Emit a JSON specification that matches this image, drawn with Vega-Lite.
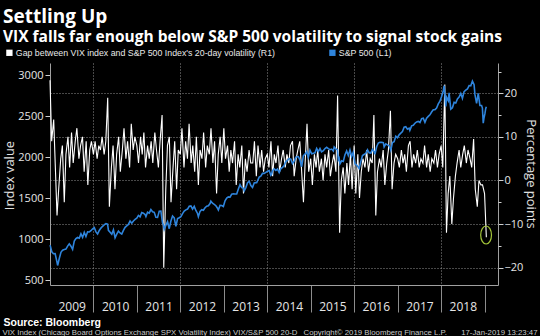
{
  "$schema": "https://vega.github.io/schema/vega-lite/v6.json",
  "width": 448,
  "height": 222,
  "autosize": {"type": "none"},
  "padding": {"left": 50, "top": 63, "right": 42, "bottom": 51},
  "background": "#000000",
  "config": {"view": {"stroke": null}, "font": "Open Sans"},
  "title": {
    "text": "Settling Up",
    "subtitle": "VIX falls far enough below S&P 500 volatility to signal stock gains",
    "anchor": "start",
    "frame": "group",
    "dx": -47,
    "color": "#ffffff",
    "font": "Open Sans",
    "fontSize": 19,
    "fontWeight": "bold",
    "subtitleColor": "#ffffff",
    "subtitleFont": "Open Sans",
    "subtitleFontSize": 15.5,
    "subtitleFontWeight": "bold",
    "subtitlePadding": 3,
    "offset": 3
  },
  "datasets": {
    "gap": [
      {"d": "2009-01-01", "v": 23}, {"d": "2009-01-15", "v": 9}, {"d": "2009-02-01", "v": 14}, {"d": "2009-02-15", "v": 3}, {"d": "2009-03-01", "v": -8}, {"d": "2009-03-15", "v": -2}, {"d": "2009-04-01", "v": 5}, {"d": "2009-04-15", "v": 8}, {"d": "2009-05-01", "v": -5}, {"d": "2009-05-15", "v": 6}, {"d": "2009-06-01", "v": 10}, {"d": "2009-06-15", "v": 3}, {"d": "2009-07-01", "v": 11}, {"d": "2009-07-15", "v": 4}, {"d": "2009-08-01", "v": 9}, {"d": "2009-08-15", "v": 12}, {"d": "2009-09-01", "v": 5}, {"d": "2009-09-15", "v": 8}, {"d": "2009-10-01", "v": 10}, {"d": "2009-10-15", "v": 2}, {"d": "2009-11-01", "v": 9}, {"d": "2009-11-15", "v": -1}, {"d": "2009-12-01", "v": 7}, {"d": "2009-12-15", "v": 9},
      {"d": "2010-01-01", "v": 6}, {"d": "2010-01-15", "v": 9}, {"d": "2010-02-01", "v": 5}, {"d": "2010-02-15", "v": 8}, {"d": "2010-03-01", "v": 7}, {"d": "2010-03-15", "v": 10}, {"d": "2010-04-01", "v": 6}, {"d": "2010-04-15", "v": 9}, {"d": "2010-05-01", "v": 19}, {"d": "2010-05-15", "v": -6}, {"d": "2010-06-01", "v": 3}, {"d": "2010-06-15", "v": 8}, {"d": "2010-07-01", "v": -2}, {"d": "2010-07-15", "v": 6}, {"d": "2010-08-01", "v": 10}, {"d": "2010-08-15", "v": 2}, {"d": "2010-09-01", "v": 7}, {"d": "2010-09-15", "v": 12}, {"d": "2010-10-01", "v": 5}, {"d": "2010-10-15", "v": 9}, {"d": "2010-11-01", "v": 3}, {"d": "2010-11-15", "v": 13}, {"d": "2010-12-01", "v": 7}, {"d": "2010-12-15", "v": 10},
      {"d": "2011-01-01", "v": 8}, {"d": "2011-01-15", "v": 4}, {"d": "2011-02-01", "v": 10}, {"d": "2011-02-15", "v": 6}, {"d": "2011-03-01", "v": 11}, {"d": "2011-03-15", "v": 3}, {"d": "2011-04-01", "v": 8}, {"d": "2011-04-15", "v": 5}, {"d": "2011-05-01", "v": 9}, {"d": "2011-05-15", "v": 4}, {"d": "2011-06-01", "v": 11}, {"d": "2011-06-15", "v": 7}, {"d": "2011-07-01", "v": 3}, {"d": "2011-07-15", "v": 9}, {"d": "2011-08-01", "v": 15}, {"d": "2011-08-15", "v": -20}, {"d": "2011-09-01", "v": -2}, {"d": "2011-09-15", "v": 8}, {"d": "2011-10-01", "v": 10}, {"d": "2011-10-15", "v": -5}, {"d": "2011-11-01", "v": 3}, {"d": "2011-11-15", "v": 9}, {"d": "2011-12-01", "v": -2}, {"d": "2011-12-15", "v": 7},
      {"d": "2012-01-01", "v": 6}, {"d": "2012-01-15", "v": 12}, {"d": "2012-02-01", "v": 3}, {"d": "2012-02-15", "v": 9}, {"d": "2012-03-01", "v": 5}, {"d": "2012-03-15", "v": 13}, {"d": "2012-04-01", "v": 4}, {"d": "2012-04-15", "v": 8}, {"d": "2012-05-01", "v": 2}, {"d": "2012-05-15", "v": 10}, {"d": "2012-06-01", "v": -1}, {"d": "2012-06-15", "v": 7}, {"d": "2012-07-01", "v": 5}, {"d": "2012-07-15", "v": 11}, {"d": "2012-08-01", "v": 3}, {"d": "2012-08-15", "v": 8}, {"d": "2012-09-01", "v": 6}, {"d": "2012-09-15", "v": 12}, {"d": "2012-10-01", "v": 4}, {"d": "2012-10-15", "v": 9}, {"d": "2012-11-01", "v": -3}, {"d": "2012-11-15", "v": 6}, {"d": "2012-12-01", "v": 10}, {"d": "2012-12-15", "v": 4},
      {"d": "2013-01-01", "v": 12}, {"d": "2013-01-15", "v": 5}, {"d": "2013-02-01", "v": 8}, {"d": "2013-02-15", "v": 2}, {"d": "2013-03-01", "v": 7}, {"d": "2013-03-15", "v": 4}, {"d": "2013-04-01", "v": 9}, {"d": "2013-04-15", "v": -1}, {"d": "2013-05-01", "v": 6}, {"d": "2013-05-15", "v": 3}, {"d": "2013-06-01", "v": 8}, {"d": "2013-06-15", "v": -3}, {"d": "2013-07-01", "v": 5}, {"d": "2013-07-15", "v": 2}, {"d": "2013-08-01", "v": 7}, {"d": "2013-08-15", "v": 4}, {"d": "2013-09-01", "v": 4}, {"d": "2013-09-15", "v": 9}, {"d": "2013-10-01", "v": 1}, {"d": "2013-10-15", "v": 8}, {"d": "2013-11-01", "v": 3}, {"d": "2013-11-15", "v": 7}, {"d": "2013-12-01", "v": 2}, {"d": "2013-12-15", "v": 5},
      {"d": "2014-01-01", "v": 6}, {"d": "2014-01-15", "v": 3}, {"d": "2014-02-01", "v": 9}, {"d": "2014-02-15", "v": 1}, {"d": "2014-03-01", "v": 6}, {"d": "2014-03-15", "v": 4}, {"d": "2014-04-01", "v": 8}, {"d": "2014-04-15", "v": 2}, {"d": "2014-05-01", "v": 5}, {"d": "2014-05-15", "v": 7}, {"d": "2014-06-01", "v": 3}, {"d": "2014-06-15", "v": 6}, {"d": "2014-07-01", "v": 4}, {"d": "2014-07-15", "v": 8}, {"d": "2014-08-01", "v": 9}, {"d": "2014-08-15", "v": 1}, {"d": "2014-09-01", "v": 5}, {"d": "2014-09-15", "v": 7}, {"d": "2014-10-01", "v": 9}, {"d": "2014-10-15", "v": 3}, {"d": "2014-11-01", "v": -5}, {"d": "2014-11-15", "v": 4}, {"d": "2014-12-01", "v": 13}, {"d": "2014-12-15", "v": 2},
      {"d": "2015-01-01", "v": 5}, {"d": "2015-01-15", "v": -1}, {"d": "2015-02-01", "v": 6}, {"d": "2015-02-15", "v": 3}, {"d": "2015-03-01", "v": 7}, {"d": "2015-03-15", "v": 2}, {"d": "2015-04-01", "v": 5}, {"d": "2015-04-15", "v": 0}, {"d": "2015-05-01", "v": 6}, {"d": "2015-05-15", "v": 3}, {"d": "2015-06-01", "v": 7}, {"d": "2015-06-15", "v": 1}, {"d": "2015-07-01", "v": 4}, {"d": "2015-07-15", "v": 6}, {"d": "2015-08-01", "v": 2}, {"d": "2015-08-15", "v": 19.5}, {"d": "2015-09-01", "v": -12}, {"d": "2015-09-15", "v": 0}, {"d": "2015-10-01", "v": 3}, {"d": "2015-10-15", "v": -3}, {"d": "2015-11-01", "v": 4}, {"d": "2015-11-15", "v": -1}, {"d": "2015-12-01", "v": 6}, {"d": "2015-12-15", "v": -2},
      {"d": "2016-01-01", "v": 8}, {"d": "2016-01-15", "v": -3}, {"d": "2016-02-01", "v": 6}, {"d": "2016-02-15", "v": -4}, {"d": "2016-03-01", "v": 2}, {"d": "2016-03-15", "v": 5}, {"d": "2016-04-01", "v": 3}, {"d": "2016-04-15", "v": 7}, {"d": "2016-05-01", "v": 2}, {"d": "2016-05-15", "v": 5}, {"d": "2016-06-01", "v": 4}, {"d": "2016-06-15", "v": 15}, {"d": "2016-07-01", "v": -8}, {"d": "2016-07-15", "v": 2}, {"d": "2016-08-01", "v": 5}, {"d": "2016-08-15", "v": 3}, {"d": "2016-09-01", "v": 7}, {"d": "2016-09-15", "v": -1}, {"d": "2016-10-01", "v": 4}, {"d": "2016-10-15", "v": 7}, {"d": "2016-11-01", "v": 16}, {"d": "2016-11-15", "v": -2}, {"d": "2016-12-01", "v": 4}, {"d": "2016-12-15", "v": 6},
      {"d": "2017-01-01", "v": 5}, {"d": "2017-01-15", "v": 3}, {"d": "2017-02-01", "v": 7}, {"d": "2017-02-15", "v": 4}, {"d": "2017-03-01", "v": 6}, {"d": "2017-03-15", "v": 2}, {"d": "2017-04-01", "v": 8}, {"d": "2017-04-15", "v": 9}, {"d": "2017-05-01", "v": 3}, {"d": "2017-05-15", "v": 6}, {"d": "2017-06-01", "v": 4}, {"d": "2017-06-15", "v": 7}, {"d": "2017-07-01", "v": 3}, {"d": "2017-07-15", "v": 5}, {"d": "2017-08-01", "v": 4}, {"d": "2017-08-15", "v": 8}, {"d": "2017-09-01", "v": 3}, {"d": "2017-09-15", "v": 6}, {"d": "2017-10-01", "v": 2}, {"d": "2017-10-15", "v": 5}, {"d": "2017-11-01", "v": 4}, {"d": "2017-11-15", "v": 7}, {"d": "2017-12-01", "v": 3}, {"d": "2017-12-15", "v": 6},
      {"d": "2018-01-01", "v": 8}, {"d": "2018-01-15", "v": 3}, {"d": "2018-02-01", "v": 22}, {"d": "2018-02-15", "v": -12}, {"d": "2018-03-01", "v": -3}, {"d": "2018-03-15", "v": 1}, {"d": "2018-04-01", "v": -10}, {"d": "2018-04-15", "v": -4}, {"d": "2018-05-01", "v": 1}, {"d": "2018-05-15", "v": 4}, {"d": "2018-06-01", "v": 7}, {"d": "2018-06-15", "v": 3}, {"d": "2018-07-01", "v": 6}, {"d": "2018-07-15", "v": 8}, {"d": "2018-08-01", "v": 4}, {"d": "2018-08-15", "v": 7}, {"d": "2018-09-01", "v": 5}, {"d": "2018-09-15", "v": 3}, {"d": "2018-10-01", "v": 9.5}, {"d": "2018-10-15", "v": -2}, {"d": "2018-11-01", "v": -6}, {"d": "2018-11-15", "v": 0}, {"d": "2018-12-01", "v": -1}, {"d": "2018-12-15", "v": -1},
      {"d": "2019-01-01", "v": -3}, {"d": "2019-01-16", "v": -13}
    ],
    "spx": [
      {"d": "2009-01-02", "v": 931}, {"d": "2009-01-16", "v": 850}, {"d": "2009-01-30", "v": 826}, {"d": "2009-02-13", "v": 827}, {"d": "2009-02-27", "v": 735}, {"d": "2009-03-06", "v": 683}, {"d": "2009-03-20", "v": 768}, {"d": "2009-04-03", "v": 843}, {"d": "2009-04-17", "v": 870}, {"d": "2009-05-01", "v": 877}, {"d": "2009-05-15", "v": 882}, {"d": "2009-05-29", "v": 919}, {"d": "2009-06-12", "v": 946}, {"d": "2009-06-26", "v": 918}, {"d": "2009-07-10", "v": 879}, {"d": "2009-07-24", "v": 979}, {"d": "2009-08-07", "v": 1010}, {"d": "2009-08-21", "v": 1026}, {"d": "2009-09-04", "v": 1016}, {"d": "2009-09-18", "v": 1068}, {"d": "2009-10-02", "v": 1025}, {"d": "2009-10-16", "v": 1087}, {"d": "2009-10-30", "v": 1036}, {"d": "2009-11-13", "v": 1093}, {"d": "2009-11-27", "v": 1091}, {"d": "2009-12-11", "v": 1106}, {"d": "2009-12-24", "v": 1127},
      {"d": "2010-01-08", "v": 1145}, {"d": "2010-01-22", "v": 1092}, {"d": "2010-02-05", "v": 1066}, {"d": "2010-02-19", "v": 1109}, {"d": "2010-03-05", "v": 1138}, {"d": "2010-03-19", "v": 1160}, {"d": "2010-04-01", "v": 1178}, {"d": "2010-04-16", "v": 1192}, {"d": "2010-04-30", "v": 1187}, {"d": "2010-05-07", "v": 1111}, {"d": "2010-05-21", "v": 1088}, {"d": "2010-06-04", "v": 1064}, {"d": "2010-06-18", "v": 1117}, {"d": "2010-07-02", "v": 1022}, {"d": "2010-07-16", "v": 1065}, {"d": "2010-07-30", "v": 1101}, {"d": "2010-08-13", "v": 1079}, {"d": "2010-08-27", "v": 1065}, {"d": "2010-09-10", "v": 1110}, {"d": "2010-09-24", "v": 1148}, {"d": "2010-10-08", "v": 1166}, {"d": "2010-10-22", "v": 1183}, {"d": "2010-11-05", "v": 1225}, {"d": "2010-11-19", "v": 1199}, {"d": "2010-12-03", "v": 1225}, {"d": "2010-12-17", "v": 1244}, {"d": "2010-12-31", "v": 1258},
      {"d": "2011-01-14", "v": 1293}, {"d": "2011-01-28", "v": 1276}, {"d": "2011-02-11", "v": 1329}, {"d": "2011-02-25", "v": 1320}, {"d": "2011-03-11", "v": 1304}, {"d": "2011-03-18", "v": 1279}, {"d": "2011-04-01", "v": 1332}, {"d": "2011-04-15", "v": 1320}, {"d": "2011-04-29", "v": 1364}, {"d": "2011-05-13", "v": 1338}, {"d": "2011-05-27", "v": 1331}, {"d": "2011-06-10", "v": 1271}, {"d": "2011-06-24", "v": 1268}, {"d": "2011-07-08", "v": 1344}, {"d": "2011-07-22", "v": 1345}, {"d": "2011-08-05", "v": 1199}, {"d": "2011-08-12", "v": 1179}, {"d": "2011-08-19", "v": 1124}, {"d": "2011-09-02", "v": 1174}, {"d": "2011-09-16", "v": 1216}, {"d": "2011-09-30", "v": 1131}, {"d": "2011-10-14", "v": 1224}, {"d": "2011-10-28", "v": 1285}, {"d": "2011-11-11", "v": 1264}, {"d": "2011-11-25", "v": 1159}, {"d": "2011-12-09", "v": 1255}, {"d": "2011-12-23", "v": 1265},
      {"d": "2012-01-06", "v": 1278}, {"d": "2012-01-20", "v": 1315}, {"d": "2012-02-03", "v": 1345}, {"d": "2012-02-17", "v": 1361}, {"d": "2012-03-02", "v": 1370}, {"d": "2012-03-16", "v": 1404}, {"d": "2012-03-30", "v": 1408}, {"d": "2012-04-13", "v": 1370}, {"d": "2012-04-27", "v": 1403}, {"d": "2012-05-11", "v": 1353}, {"d": "2012-05-25", "v": 1317}, {"d": "2012-06-01", "v": 1278}, {"d": "2012-06-15", "v": 1342}, {"d": "2012-06-29", "v": 1362}, {"d": "2012-07-13", "v": 1356}, {"d": "2012-07-27", "v": 1386}, {"d": "2012-08-10", "v": 1405}, {"d": "2012-08-24", "v": 1411}, {"d": "2012-09-07", "v": 1437}, {"d": "2012-09-14", "v": 1466}, {"d": "2012-09-28", "v": 1441}, {"d": "2012-10-12", "v": 1428}, {"d": "2012-10-26", "v": 1411}, {"d": "2012-11-09", "v": 1380}, {"d": "2012-11-16", "v": 1360}, {"d": "2012-11-30", "v": 1416}, {"d": "2012-12-14", "v": 1413}, {"d": "2012-12-28", "v": 1402},
      {"d": "2013-01-11", "v": 1472}, {"d": "2013-01-25", "v": 1503}, {"d": "2013-02-08", "v": 1518}, {"d": "2013-02-22", "v": 1515}, {"d": "2013-03-08", "v": 1552}, {"d": "2013-03-22", "v": 1557}, {"d": "2013-04-05", "v": 1553}, {"d": "2013-04-19", "v": 1555}, {"d": "2013-05-03", "v": 1614}, {"d": "2013-05-17", "v": 1667}, {"d": "2013-05-31", "v": 1631}, {"d": "2013-06-14", "v": 1626}, {"d": "2013-06-21", "v": 1593}, {"d": "2013-07-05", "v": 1632}, {"d": "2013-07-19", "v": 1692}, {"d": "2013-08-02", "v": 1709}, {"d": "2013-08-16", "v": 1656}, {"d": "2013-08-30", "v": 1633}, {"d": "2013-09-13", "v": 1688}, {"d": "2013-09-27", "v": 1692}, {"d": "2013-10-04", "v": 1691}, {"d": "2013-10-25", "v": 1759}, {"d": "2013-11-08", "v": 1771}, {"d": "2013-11-22", "v": 1805}, {"d": "2013-12-06", "v": 1805}, {"d": "2013-12-20", "v": 1818},
      {"d": "2014-01-03", "v": 1831}, {"d": "2014-01-17", "v": 1839}, {"d": "2014-01-31", "v": 1783}, {"d": "2014-02-07", "v": 1797}, {"d": "2014-02-14", "v": 1838}, {"d": "2014-02-28", "v": 1859}, {"d": "2014-03-14", "v": 1841}, {"d": "2014-03-28", "v": 1857}, {"d": "2014-04-11", "v": 1815}, {"d": "2014-04-25", "v": 1863}, {"d": "2014-05-09", "v": 1878}, {"d": "2014-05-23", "v": 1900}, {"d": "2014-06-06", "v": 1949}, {"d": "2014-06-20", "v": 1962}, {"d": "2014-07-03", "v": 1985}, {"d": "2014-07-18", "v": 1978}, {"d": "2014-08-01", "v": 1925}, {"d": "2014-08-15", "v": 1955}, {"d": "2014-08-29", "v": 2003}, {"d": "2014-09-19", "v": 2010}, {"d": "2014-10-03", "v": 1967}, {"d": "2014-10-17", "v": 1886}, {"d": "2014-10-31", "v": 2018}, {"d": "2014-11-14", "v": 2039}, {"d": "2014-11-28", "v": 2068}, {"d": "2014-12-12", "v": 2002}, {"d": "2014-12-26", "v": 2088},
      {"d": "2015-01-09", "v": 2044}, {"d": "2015-01-23", "v": 2051}, {"d": "2015-02-06", "v": 2055}, {"d": "2015-02-20", "v": 2110}, {"d": "2015-03-06", "v": 2071}, {"d": "2015-03-20", "v": 2108}, {"d": "2015-04-02", "v": 2067}, {"d": "2015-04-17", "v": 2081}, {"d": "2015-05-01", "v": 2108}, {"d": "2015-05-15", "v": 2123}, {"d": "2015-05-29", "v": 2107}, {"d": "2015-06-12", "v": 2094}, {"d": "2015-06-26", "v": 2101}, {"d": "2015-07-10", "v": 2077}, {"d": "2015-07-17", "v": 2127}, {"d": "2015-07-31", "v": 2104}, {"d": "2015-08-14", "v": 2092}, {"d": "2015-08-21", "v": 1971}, {"d": "2015-08-28", "v": 1989}, {"d": "2015-09-04", "v": 1921}, {"d": "2015-09-18", "v": 1958}, {"d": "2015-10-02", "v": 1951}, {"d": "2015-10-16", "v": 2033}, {"d": "2015-10-30", "v": 2079}, {"d": "2015-11-13", "v": 2023}, {"d": "2015-11-27", "v": 2090}, {"d": "2015-12-11", "v": 2012}, {"d": "2015-12-24", "v": 2060},
      {"d": "2016-01-08", "v": 1922}, {"d": "2016-01-22", "v": 1907}, {"d": "2016-02-05", "v": 1880}, {"d": "2016-02-12", "v": 1865}, {"d": "2016-02-26", "v": 1948}, {"d": "2016-03-11", "v": 2022}, {"d": "2016-03-24", "v": 2035}, {"d": "2016-04-08", "v": 2047}, {"d": "2016-04-22", "v": 2092}, {"d": "2016-05-06", "v": 2057}, {"d": "2016-05-20", "v": 2052}, {"d": "2016-06-03", "v": 2099}, {"d": "2016-06-17", "v": 2071}, {"d": "2016-06-24", "v": 2037}, {"d": "2016-07-08", "v": 2130}, {"d": "2016-07-22", "v": 2175}, {"d": "2016-08-05", "v": 2183}, {"d": "2016-08-19", "v": 2184}, {"d": "2016-09-02", "v": 2180}, {"d": "2016-09-09", "v": 2128}, {"d": "2016-09-23", "v": 2165}, {"d": "2016-10-07", "v": 2153}, {"d": "2016-10-21", "v": 2141}, {"d": "2016-11-04", "v": 2085}, {"d": "2016-11-18", "v": 2182}, {"d": "2016-12-02", "v": 2192}, {"d": "2016-12-16", "v": 2258}, {"d": "2016-12-30", "v": 2239},
      {"d": "2017-01-13", "v": 2275}, {"d": "2017-01-27", "v": 2295}, {"d": "2017-02-10", "v": 2316}, {"d": "2017-02-24", "v": 2367}, {"d": "2017-03-10", "v": 2373}, {"d": "2017-03-24", "v": 2344}, {"d": "2017-04-07", "v": 2356}, {"d": "2017-04-13", "v": 2329}, {"d": "2017-04-28", "v": 2384}, {"d": "2017-05-12", "v": 2391}, {"d": "2017-05-26", "v": 2416}, {"d": "2017-06-09", "v": 2432}, {"d": "2017-06-23", "v": 2438}, {"d": "2017-07-07", "v": 2425}, {"d": "2017-07-21", "v": 2472}, {"d": "2017-08-04", "v": 2477}, {"d": "2017-08-18", "v": 2426}, {"d": "2017-09-01", "v": 2477}, {"d": "2017-09-15", "v": 2500}, {"d": "2017-09-29", "v": 2519}, {"d": "2017-10-13", "v": 2553}, {"d": "2017-10-27", "v": 2581}, {"d": "2017-11-10", "v": 2582}, {"d": "2017-11-24", "v": 2602}, {"d": "2017-12-08", "v": 2652}, {"d": "2017-12-22", "v": 2684},
      {"d": "2018-01-05", "v": 2743}, {"d": "2018-01-19", "v": 2810}, {"d": "2018-01-26", "v": 2873}, {"d": "2018-02-02", "v": 2762}, {"d": "2018-02-09", "v": 2620}, {"d": "2018-02-16", "v": 2732}, {"d": "2018-03-02", "v": 2691}, {"d": "2018-03-09", "v": 2786}, {"d": "2018-03-23", "v": 2588}, {"d": "2018-04-06", "v": 2604}, {"d": "2018-04-20", "v": 2670}, {"d": "2018-05-04", "v": 2663}, {"d": "2018-05-18", "v": 2713}, {"d": "2018-06-01", "v": 2735}, {"d": "2018-06-15", "v": 2780}, {"d": "2018-06-29", "v": 2718}, {"d": "2018-07-13", "v": 2801}, {"d": "2018-07-27", "v": 2819}, {"d": "2018-08-10", "v": 2833}, {"d": "2018-08-24", "v": 2875}, {"d": "2018-09-07", "v": 2872}, {"d": "2018-09-21", "v": 2930}, {"d": "2018-10-05", "v": 2885}, {"d": "2018-10-12", "v": 2767}, {"d": "2018-10-26", "v": 2658}, {"d": "2018-11-09", "v": 2781}, {"d": "2018-11-23", "v": 2633}, {"d": "2018-12-07", "v": 2633}, {"d": "2018-12-14", "v": 2600}, {"d": "2018-12-21", "v": 2417}, {"d": "2018-12-28", "v": 2486},
      {"d": "2019-01-04", "v": 2532}, {"d": "2019-01-11", "v": 2596}, {"d": "2019-01-16", "v": 2617}
    ],
    "mark": [{"d": "2019-01-14", "v": -12.5}]
  },
  "layer": [
    {
      "data": {"name": "gap"},
      "mark": {"type": "line", "strokeWidth": 1.1},
      "encoding": {
        "x": {
          "field": "d", "type": "temporal",
          "scale": {"type": "utc", "domain": [{"year": 2009, "month": 1, "date": 1, "utc": true}, {"year": 2019, "month": 4, "date": 24, "utc": true}]},
          "axis": {
            "orient": "bottom",
            "values": [{"year": 2009, "month": 1, "date": 1, "utc": true}, {"year": 2010, "month": 1, "date": 1, "utc": true}, {"year": 2011, "month": 1, "date": 1, "utc": true}, {"year": 2012, "month": 1, "date": 1, "utc": true}, {"year": 2013, "month": 1, "date": 1, "utc": true}, {"year": 2014, "month": 1, "date": 1, "utc": true}, {"year": 2015, "month": 1, "date": 1, "utc": true}, {"year": 2016, "month": 1, "date": 1, "utc": true}, {"year": 2017, "month": 1, "date": 1, "utc": true}, {"year": 2018, "month": 1, "date": 1, "utc": true}, {"year": 2019, "month": 1, "date": 1, "utc": true}],
            "labelExpr": "utcyear(datum.value) < 2019 ? utcFormat(datum.value, '%Y') : ''",
            "labelOffset": 21.7,
            "labelFlush": false,
            "labelOverlap": false,
            "labelBound": false,
            "labelAlign": "center",
            "labelColor": "#e6e6e6",
            "labelFont": "Open Sans",
            "labelFontSize": 12,
            "labelPadding": -11,
            "tickSize": 27,
            "tickColor": "#8c8c8c",
            "tickOpacity": {"condition": {"test": "utcyear(datum.value) == 2009", "value": 0}, "value": 1},
            "domainColor": "#a0a0a0",
            "grid": true,
            "gridDash": [1, 2],
            "gridColor": "#909090",
            "gridOpacity": {"condition": {"test": "utcyear(datum.value) % 2 == 0", "value": 1}, "value": 0},
            "title": "Source: Bloomberg",
            "titleX": -47,
            "titleY": 40.5,
            "titleAnchor": "start",
            "titleAlign": "left",
            "titleBaseline": "alphabetic",
            "titleFont": "Liberation Sans",
            "titleFontSize": 10.5,
            "titleFontWeight": "bold",
            "titleColor": "#ffffff"
          }
        },
        "y": {
          "field": "v", "type": "quantitative",
          "scale": {"domain": [-23.97, 26.95], "nice": false, "zero": false},
          "axis": {
            "orient": "right",
            "values": [-20, -10, 0, 10, 20],
            "title": "Percentage points",
            "titleAngle": 90,
            "titleX": 32,
            "titleY": 110.5,
            "titleAlign": "center",
            "titleBaseline": "middle",
            "titleFont": "Open Sans",
            "titleFontSize": 13,
            "titleFontWeight": "normal",
            "titleColor": "#e0e0e0",
            "labelColor": "#e6e6e6",
            "labelFont": "Open Sans",
            "labelFontSize": 11,
            "labelPadding": 1,
            "tickSize": 5,
            "tickColor": "#cfcfcf",
            "domainColor": "#a0a0a0",
            "grid": true,
            "gridDash": [1, 2],
            "gridColor": "#909090"
          }
        },
        "color": {
          "datum": "Gap between VIX index and S&P 500 Index's 20-day volatility (R1)",
          "scale": {"domain": ["Gap between VIX index and S&P 500 Index's 20-day volatility (R1)", "S&P 500 (L1)"], "range": ["#ffffff", "#2e84dc"]},
          "legend": {
            "orient": "none",
            "legendX": -45,
            "legendY": -15,
            "direction": "horizontal",
            "title": null,
            "symbolType": "square",
            "symbolSize": 40,
            "symbolStrokeWidth": 0,
            "symbolOpacity": 1,
            "labelFont": "Liberation Sans",
            "labelFontSize": 8.8,
            "labelColor": "#e8e8e8",
            "labelOffset": 2,
            "columnPadding": 52,
            "labelLimit": 400,
            "encode": {"symbols": {"update": {"fill": {"scale": "color", "field": "value"}}}}
          }
        }
      }
    },
    {
      "data": {"name": "spx"},
      "mark": {"type": "line", "strokeWidth": 1.6},
      "encoding": {
        "x": {
          "field": "d", "type": "temporal",
          "scale": {"type": "utc", "domain": [{"year": 2009, "month": 1, "date": 1, "utc": true}, {"year": 2019, "month": 4, "date": 24, "utc": true}]},
          "axis": {
            "orient": "bottom",
            "domain": false, "ticks": false, "labels": false, "grid": false,
            "title": "VIX Index (Chicago Board Options Exchange SPX Volatility Index) VIX/S&P 500 20-D",
            "titleX": -48,
            "titleY": 49.5,
            "titleAnchor": "start",
            "titleAlign": "left",
            "titleBaseline": "alphabetic",
            "titleFont": "Liberation Sans",
            "titleFontSize": 7.8,
            "titleFontWeight": "normal",
            "titleColor": "#c8c8c8"
          }
        },
        "y": {
          "field": "v", "type": "quantitative",
          "scale": {"domain": [445, 3150], "nice": false, "zero": false},
          "axis": {
            "orient": "left",
            "values": [500, 1000, 1500, 2000, 2500, 3000],
            "format": "d",
            "title": "Index value",
            "titleX": -41,
            "titleY": 112,
            "titleAlign": "center",
            "titleBaseline": "middle",
            "titleFont": "Open Sans",
            "titleFontSize": 13,
            "titleFontWeight": "normal",
            "titleColor": "#e0e0e0",
            "labelColor": "#e6e6e6",
            "labelFont": "Open Sans",
            "labelFontSize": 11,
            "labelPadding": 2,
            "tickSize": 5,
            "tickColor": "#cfcfcf",
            "domainColor": "#a0a0a0",
            "grid": false
          }
        },
        "color": {"datum": "S&P 500 (L1)"}
      }
    },
    {
      "data": {"name": "mark"},
      "mark": {"type": "point", "shape": "M -0.6 0 A 0.6 1 0 1 0 0.6 0 A 0.6 1 0 1 0 -0.6 0 Z", "size": 324, "filled": false, "stroke": "#a4c639", "strokeWidth": 1.2, "opacity": 1},
      "encoding": {
        "x": {
          "field": "d", "type": "temporal",
          "scale": {"type": "utc", "domain": [{"year": 2009, "month": 1, "date": 1, "utc": true}, {"year": 2019, "month": 4, "date": 24, "utc": true}]},
          "axis": {
            "orient": "bottom",
            "domain": false, "ticks": false, "labels": false, "grid": false,
            "title": "Copyright© 2019 Bloomberg Finance L.P.",
            "titleX": 253,
            "titleY": 49.5,
            "titleAnchor": "start",
            "titleAlign": "left",
            "titleBaseline": "alphabetic",
            "titleFont": "Liberation Sans",
            "titleFontSize": 7.8,
            "titleFontWeight": "normal",
            "titleColor": "#c8c8c8"
          }
        },
        "y": {
          "field": "v", "type": "quantitative",
          "scale": {"domain": [-23.97, 26.95], "nice": false, "zero": false},
          "axis": {
            "orient": "right",
            "values": [-15, -5, 5, 15, 25],
            "domain": false,
            "labels": false,
            "grid": false,
            "title": null,
            "tickSize": 3,
            "tickColor": "#cfcfcf"
          }
        }
      }
    },
    {
      "data": {"values": []},
      "mark": {"type": "point"},
      "encoding": {
        "x": {
          "field": "d", "type": "temporal",
          "scale": {"type": "utc", "domain": [{"year": 2009, "month": 1, "date": 1, "utc": true}, {"year": 2019, "month": 4, "date": 24, "utc": true}]},
          "axis": {
            "orient": "bottom",
            "domain": false, "ticks": false, "labels": false, "grid": false,
            "title": "17-Jan-2019 13:23:47",
            "titleX": 487,
            "titleY": 49.5,
            "titleAnchor": "end",
            "titleAlign": "right",
            "titleBaseline": "alphabetic",
            "titleFont": "Liberation Sans",
            "titleFontSize": 7.8,
            "titleFontWeight": "normal",
            "titleColor": "#c8c8c8"
          }
        }
      }
    }
  ],
  "resolve": {"scale": {"y": "independent"}, "axis": {"x": "independent"}}
}
